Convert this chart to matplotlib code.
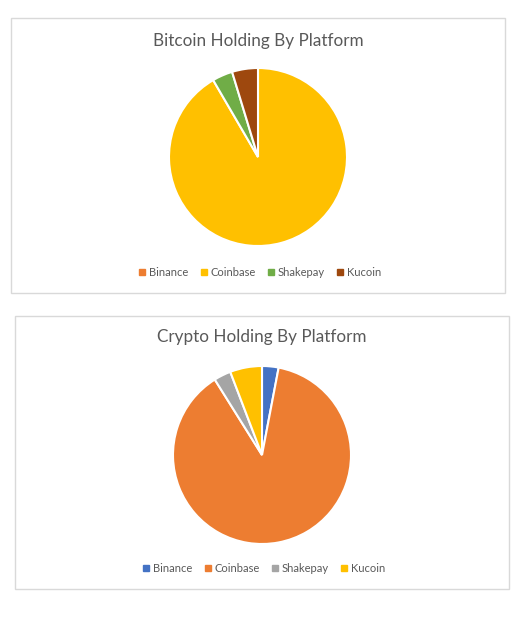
import matplotlib
matplotlib.use("Agg")
import matplotlib.pyplot as plt
from matplotlib.patches import Rectangle
from matplotlib.lines import Line2D

platforms = ["Binance", "Coinbase", "Shakepay", "Kucoin"]
bitcoin_share = [0.0, 91.6, 3.7, 4.7]
crypto_share = [3.0, 88.1, 3.1, 5.8]
titles = ["Bitcoin Holding By Platform", "Crypto Holding By Platform"]

colors_top = ["#ED7D31", "#FFC000", "#70AD47", "#9E480E"]
colors_bot = ["#4472C4", "#ED7D31", "#A5A5A5", "#FFC000"]

W, H = 530, 617
fig = plt.figure(figsize=(W / 100, H / 100), dpi=100)
fig.patch.set_facecolor("white")
FONT = "Lato"

def fx(x):
    return x / W

def fy(y):
    return 1 - y / H

def panel(box, center, r, values, colors, title, title_y, legend_y):
    x0, y0, x1, y1 = box
    fig.patches.append(Rectangle((fx(x0), fy(y1)), fx(x1 - x0), (y1 - y0) / H,
                                 transform=fig.transFigure, fill=False,
                                 edgecolor="#D9D9D9", linewidth=1.0))
    cx, cy = center
    ax = fig.add_axes([fx(cx - r), fy(cy + r), 2 * r / W, 2 * r / H])
    ax.pie(values, colors=colors, startangle=90, counterclock=False,
           wedgeprops=dict(edgecolor="white", linewidth=1.5), radius=1)
    ax.set_xlim(-1.0, 1.0)
    ax.set_ylim(-1.0, 1.0)
    ax.axis("off")
    fig.text(fx(cx), fy(title_y), title, ha="center", va="center",
             fontsize=12.3, color="#595959", family=FONT)
    handles = [Line2D([0], [0], marker="s", linestyle="none", markersize=4.5,
                      markerfacecolor=c, markeredgecolor=c) for c in colors]
    fig.legend(handles, platforms, loc="center", bbox_to_anchor=(fx(cx + 2), fy(legend_y)),
               ncol=4, frameon=False, handlelength=0.6, handletextpad=0.3,
               columnspacing=1.1, prop=dict(family=FONT, size=8),
               labelcolor="#595959")

panel((11, 18, 505, 293), (258, 157), 89, bitcoin_share, colors_top,
      titles[0], 41, 272)
panel((15, 316, 509, 589), (262, 455), 89, crypto_share, colors_bot,
      titles[1], 337, 568)

fig.savefig("out.png", dpi=100, facecolor="white")
